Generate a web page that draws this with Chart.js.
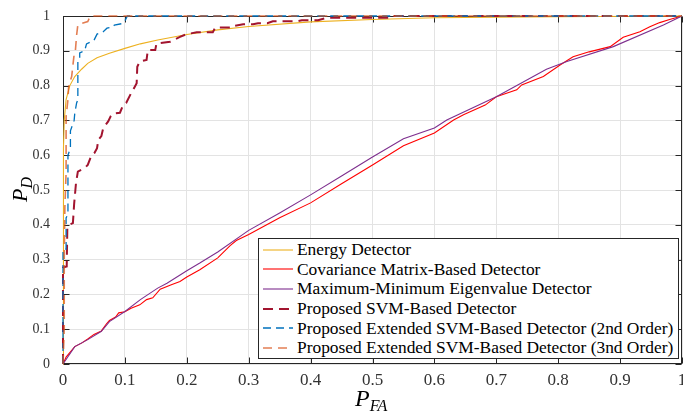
<!DOCTYPE html>
<html>
<head>
<meta charset="utf-8">
<script src="https://cdn.jsdelivr.net/npm/chart.js@4.4.1/dist/chart.umd.min.js"></script>
<style>
  html, body { margin: 0; padding: 0; background: #fff; }
  #wrap { position: relative; width: 683px; height: 413px; overflow: hidden; }
  #c { position: absolute; left: 0; top: 0; }
  #legend { position: absolute; left: 258px; top: 238px; width: 421px; height: 121px; box-sizing: border-box;
            border: 1px solid #262626; background: #fff; padding-top: 1px;
            font-family: "Liberation Serif", "DejaVu Serif", serif; font-size: 17.4px; color: #000; }
  .row { display: flex; align-items: center; height: 19.6px; white-space: nowrap; }
  .row svg { margin-left: 4px; margin-right: 4px; flex: none; }
  #xtitle { position: absolute; left: 355px; top: 386px; font-family: "Liberation Serif", "DejaVu Serif", serif; font-style: italic;
            font-size: 24px; line-height: 1; color: #000; white-space: nowrap; }
  #xtitle sub, #ytitle sub { font-size: 16px; vertical-align: -5px; }
  #ytitle { position: absolute; left: 6px; top: 177px; width: 28px; height: 22px; font-family: "Liberation Serif", "DejaVu Serif", serif;
            font-style: italic; font-size: 22px; line-height: 1; color: #000; white-space: nowrap;
            transform: rotate(-90deg); transform-origin: 50% 50%; }
</style>
</head>
<body>
<div id="wrap">
  <canvas id="c" width="683" height="413"></canvas>
  <div id="legend"></div>
  <div id="xtitle">P<sub>FA</sub></div>
  <div id="ytitle">P<sub>D</sub></div>
</div>
<script>
// ---------- data ----------
const xTickLabels = ['0','0.1','0.2','0.3','0.4','0.5','0.6','0.7','0.8','0.9','1'];
const yTickLabels = ['0','0.1','0.2','0.3','0.4','0.5','0.6','0.7','0.8','0.9','1'];

const seriesNames = [
  'Energy Detector',
  'Covariance Matrix-Based Detector',
  'Maximum-Minimum Eigenvalue Detector',
  'Proposed SVM-Based Detector',
  'Proposed Extended SVM-Based Detector (2nd Order)',
  'Proposed Extended SVM-Based Detector (3nd Order)'
];

const energyPFA = [0, 0.0005, 0.001, 0.002, 0.005, 0.008, 0.011, 0.019, 0.03, 0.04, 0.055, 0.075, 0.1, 0.125, 0.153, 0.2, 0.25, 0.3, 0.4, 0.5, 0.6, 0.8, 1];
const energyPD  = [0, 0.45, 0.62, 0.7, 0.76, 0.78, 0.8, 0.826, 0.847, 0.864, 0.88, 0.893, 0.907, 0.92, 0.931, 0.947, 0.96, 0.97, 0.983, 0.99, 0.995, 0.998, 1];

const covPFA = [0, 0.005, 0.012, 0.019, 0.03, 0.04, 0.05, 0.062, 0.07, 0.075, 0.085, 0.09, 0.1, 0.11, 0.124, 0.135, 0.145, 0.157, 0.175, 0.189, 0.2, 0.221, 0.25, 0.27, 0.28, 0.3, 0.35, 0.4, 0.45, 0.5, 0.55, 0.6, 0.631, 0.647, 0.682, 0.7, 0.733, 0.741, 0.776, 0.803, 0.824, 0.85, 0.884, 0.905, 0.932, 0.948, 0.964, 0.98, 1];
const covPD  = [0, 0.02, 0.035, 0.05, 0.06, 0.072, 0.085, 0.095, 0.115, 0.125, 0.135, 0.147, 0.15, 0.16, 0.17, 0.185, 0.19, 0.215, 0.228, 0.237, 0.25, 0.271, 0.305, 0.34, 0.355, 0.372, 0.42, 0.463, 0.518, 0.572, 0.627, 0.664, 0.701, 0.716, 0.744, 0.768, 0.788, 0.802, 0.826, 0.859, 0.883, 0.897, 0.912, 0.939, 0.955, 0.969, 0.981, 0.99, 1];

const mmPFA = [0, 0.019, 0.04, 0.062, 0.075, 0.1, 0.125, 0.153, 0.168, 0.2, 0.221, 0.25, 0.3, 0.35, 0.4, 0.45, 0.5, 0.55, 0.6, 0.62, 0.7, 0.781, 0.814, 0.889, 0.97, 1];
const mmPD  = [0, 0.05, 0.07, 0.094, 0.122, 0.151, 0.185, 0.218, 0.232, 0.268, 0.29, 0.322, 0.384, 0.434, 0.486, 0.54, 0.595, 0.647, 0.678, 0.701, 0.768, 0.847, 0.869, 0.912, 0.974, 1];

const svmPFA = [0, 0, 0.006, 0.007, 0.01, 0.016, 0.018, 0.021, 0.024, 0.032, 0.036, 0.04, 0.046, 0.051, 0.055, 0.057, 0.062, 0.065, 0.073, 0.077, 0.081, 0.092, 0.097, 0.102, 0.11, 0.113, 0.119, 0.12, 0.124, 0.135, 0.137, 0.149, 0.151, 0.173, 0.189, 0.2, 0.216, 0.242, 0.246, 0.275, 0.278, 0.291, 0.307, 0.315, 0.33, 0.339, 0.378, 0.386, 0.412, 0.423, 0.431, 0.528, 0.533, 1];
const svmPD  = [0, 0.277, 0.28, 0.39, 0.4, 0.405, 0.46, 0.52, 0.553, 0.56, 0.565, 0.572, 0.6, 0.607, 0.62, 0.644, 0.655, 0.678, 0.697, 0.712, 0.72, 0.722, 0.744, 0.75, 0.778, 0.787, 0.807, 0.854, 0.869, 0.874, 0.902, 0.902, 0.921, 0.926, 0.94, 0.948, 0.953, 0.953, 0.967, 0.967, 0.972, 0.976, 0.976, 0.979, 0.979, 0.985, 0.985, 0.988, 0.988, 0.993, 0.995, 0.995, 1, 1];

const ext2PFA = [0, 0, 0.005, 0.005, 0.008, 0.008, 0.012, 0.012, 0.018, 0.019, 0.022, 0.024, 0.024, 0.027, 0.027, 0.035, 0.038, 0.05, 0.055, 0.065, 0.071, 0.08, 0.083, 0.095, 0.098, 0.1, 0.104, 1];
const ext2PD  = [0, 0.33, 0.33, 0.42, 0.43, 0.6, 0.62, 0.67, 0.7, 0.72, 0.75, 0.76, 0.87, 0.875, 0.894, 0.9, 0.92, 0.93, 0.948, 0.955, 0.965, 0.968, 0.974, 0.978, 0.984, 0.986, 1, 1];

const ext3PFA = [0, 0.002, 0.002, 0.003, 0.005, 0.005, 0.008, 0.009, 0.011, 0.014, 0.018, 0.02, 0.022, 0.024, 0.04, 0.044, 1];
const ext3PD  = [0, 0.1, 0.3, 0.45, 0.55, 0.71, 0.76, 0.795, 0.81, 0.826, 0.89, 0.9, 0.945, 0.975, 0.984, 1, 1];

// ---------- styles ----------
const styles = [
  { color: '#EDB120', width: 1.1, dash: [] },
  { color: '#FF0000', width: 1.1, dash: [] },
  { color: '#7E2F8E', width: 1.1, dash: [] },
  { color: '#A2142F', width: 2, dash: [10, 6] },
  { color: '#0072BD', width: 1.3, dash: [8, 5] },
  { color: 'rgba(217,83,25,0.75)', width: 1.6, dash: [9, 6] }
];

const xs = [energyPFA, covPFA, mmPFA, svmPFA, ext2PFA, ext3PFA];
const ys = [energyPD, covPD, mmPD, svmPD, ext2PD, ext3PD];

const datasets = seriesNames.map((name, i) => ({
  label: name,
  data: xs[i].map((x, k) => ({ x: x, y: ys[i][k] })),
  showLine: true,
  borderColor: styles[i].color,
  backgroundColor: styles[i].color,
  borderWidth: styles[i].width,
  borderDash: styles[i].dash,
  pointRadius: 0,
  pointHoverRadius: 0,
  tension: 0,
  fill: false,
  order: 5 - i,
  clip: 3
}));

// ---------- box + inward ticks (MATLAB style) ----------
const boxPlugin = {
  id: 'boxTicks',
  beforeDatasetsDraw(chart) {
    const ctx = chart.ctx;
    const a = chart.chartArea;
    const xS = chart.scales.x, yS = chart.scales.y;
    ctx.save();
    ctx.strokeStyle = '#262626';
    ctx.lineWidth = 1;
    const L = Math.round(a.left) + 0.5, R = Math.round(a.right) - 0.5;
    const T = Math.round(a.top) + 0.5, B = Math.round(a.bottom) - 0.5;
    ctx.strokeRect(L, T, R - L, B - T);
    ctx.beginPath();
    const tl = 6;
    xS.ticks.forEach(t => {
      const px = Math.round(xS.getPixelForValue(t.value)) + 0.5;
      ctx.moveTo(px, B); ctx.lineTo(px, B - tl);
      ctx.moveTo(px, T); ctx.lineTo(px, T + tl);
    });
    yS.ticks.forEach(t => {
      const py = Math.round(yS.getPixelForValue(t.value)) + 0.5;
      ctx.moveTo(L, py); ctx.lineTo(L + tl, py);
      ctx.moveTo(R, py); ctx.lineTo(R - tl, py);
    });
    ctx.stroke();
    ctx.restore();
  }
};

new Chart(document.getElementById('c'), {
  type: 'scatter',
  data: { datasets: datasets },
  options: {
    responsive: false,
    animation: false,
    devicePixelRatio: 1,
    layout: { padding: { top: 16, right: 1, left: 0, bottom: 0 } },
    plugins: { legend: { display: false }, tooltip: { enabled: false } },
    scales: {
      x: {
        type: 'linear', min: 0, max: 1,
        grid: { color: '#e3e3e3', lineWidth: 1, drawTicks: false },
        border: { display: false },
        ticks: {
          stepSize: 0.1, padding: 6, maxRotation: 0, autoSkip: false,
          color: '#333', font: { family: "'Liberation Serif', 'DejaVu Serif', serif", size: 17 },
          callback: (v, i) => xTickLabels[i]
        },
        afterFit(s) { s.height = 49; s.paddingLeft = 0; s.paddingRight = 0; }
      },
      y: {
        type: 'linear', min: 0, max: 1,
        grid: { color: '#e3e3e3', lineWidth: 1, drawTicks: false },
        border: { display: false },
        ticks: {
          stepSize: 0.1, padding: 13, autoSkip: false,
          color: '#333', font: { family: "'Liberation Serif', 'DejaVu Serif', serif", size: 14 },
          callback: (v, i) => yTickLabels[i]
        },
        afterFit(s) { s.width = 63; s.paddingTop = 0; s.paddingBottom = 0; }
      }
    }
  },
  plugins: [boxPlugin]
});

// ---------- legend (HTML text) ----------
const leg = document.getElementById('legend');
seriesNames.forEach((name, i) => {
  const st = styles[i];
  const row = document.createElement('div');
  row.className = 'row';
  const dashAttr = st.dash.length ? ` stroke-dasharray="${st.dash.join(' ')}"` : '';
  row.innerHTML = `<svg width="30" height="6"><line x1="0" y1="3" x2="30" y2="3" stroke="${st.color}" stroke-width="${st.width}"${dashAttr}/></svg><span>${name}</span>`;
  leg.appendChild(row);
});
</script>
</body>
</html>
